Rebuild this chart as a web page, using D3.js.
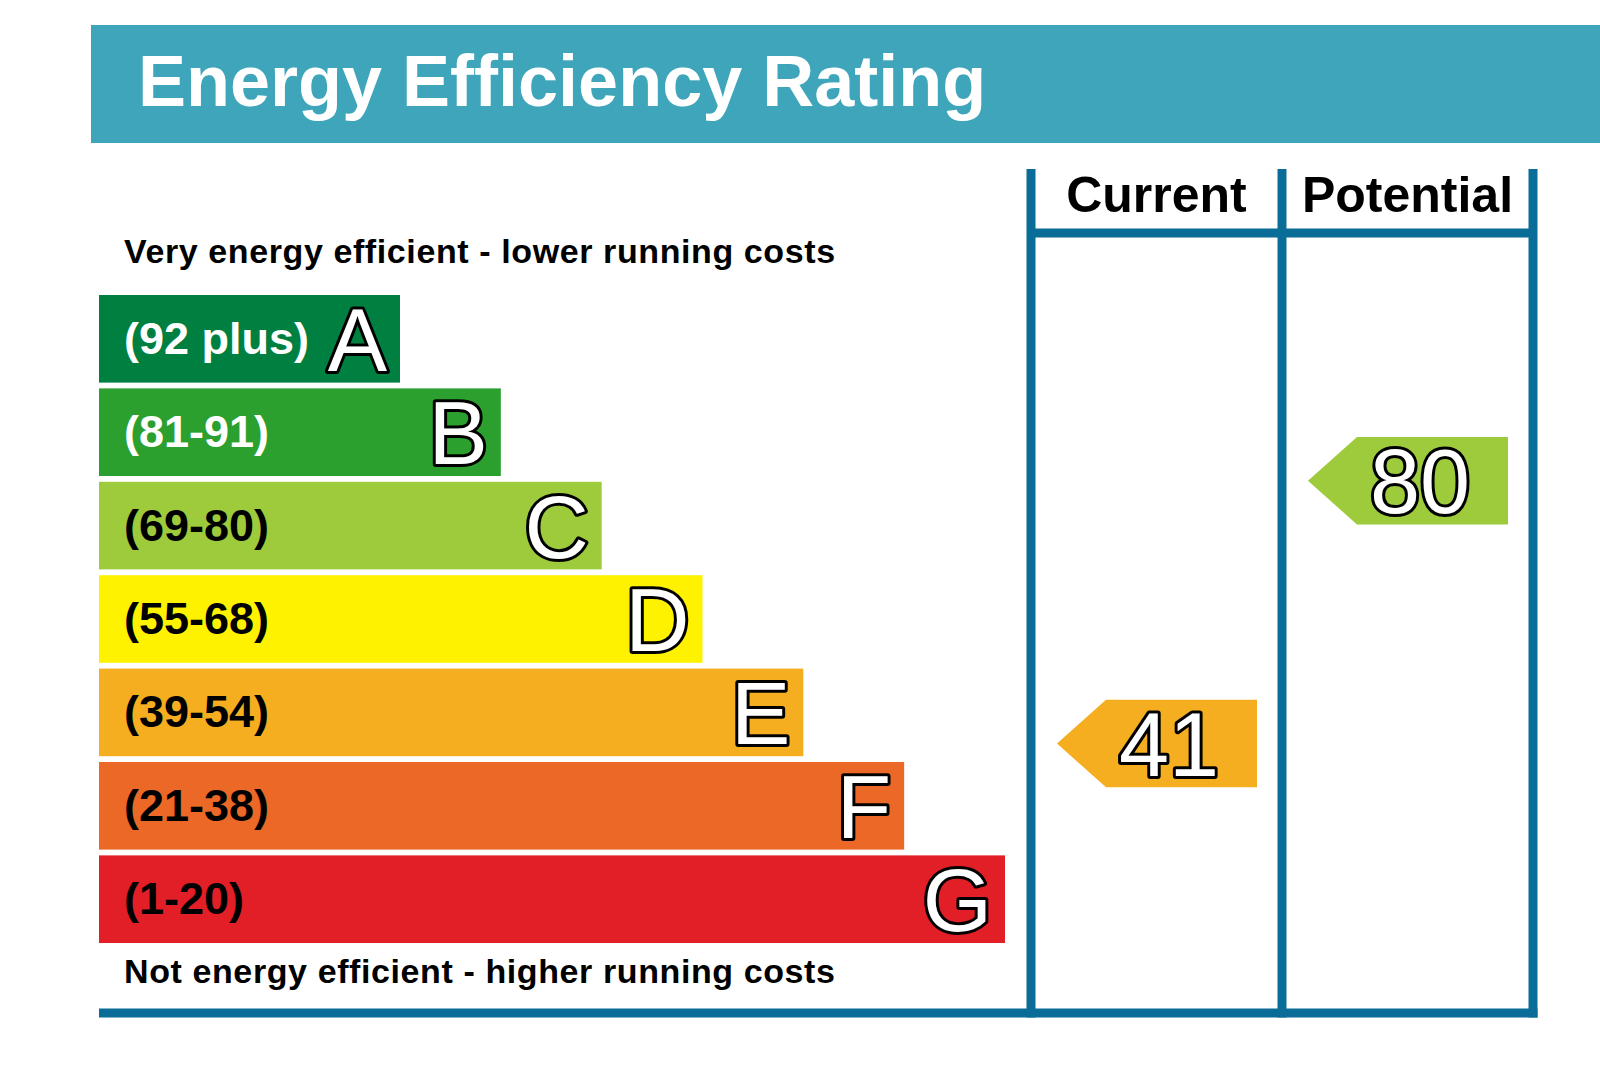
<!DOCTYPE html>
<html>
<head>
<meta charset="utf-8">
<script src="https://cdn.jsdelivr.net/npm/d3@7"></script>
<style>
  html, body { margin: 0; padding: 0; background: #ffffff; }
  svg { display: block; }
</style>
</head>
<body>
<div id="chart"></div>
<script>

//--------------------------------------
// DATA
//--------------------------------------

const bandLetters = ["A", "B", "C", "D", "E", "F", "G"];
const bandRanges  = ["(92 plus)", "(81-91)", "(69-80)", "(55-68)", "(39-54)", "(21-38)", "(1-20)"];
const bandColors  = ["#008040", "#2ca02f", "#9dcb3c", "#fff200", "#f6ae21", "#eb6826", "#e21e27"];
const bandMin     = [92, 81, 69, 55, 39, 21, 1];

const columnNames   = ["Current", "Potential"];
const ratingValues  = [41, 80];

const titleText  = "Energy Efficiency Rating";
const topNote    = "Very energy efficient - lower running costs";
const bottomNote = "Not energy efficient - higher running costs";


//--------------------------------------
// SETUP
//--------------------------------------

const W = 1600, H = 1087;
const fontFamily = "'Liberation Sans', Arial, Helvetica, sans-serif";
const lineColor = "#0a6d97";
const lineW = 9;

const svg = d3.select("#chart").append("svg")
  .attr("width", W)
  .attr("height", H);

// band rows
const y = d3.scaleBand()
  .domain(bandLetters)
  .range([295, 943])
  .paddingInner(0.062);

// right end of each band grows with its index
const xEnd = d3.scaleLinear()
  .domain([0, bandLetters.length - 1])
  .range([400, 1005]);

const barLeft = 99;

// rating columns
const col = d3.scaleBand()
  .domain(columnNames)
  .range([1031, 1533]);

// rating value -> vertical position of the pointer
const yVal = d3.scaleLinear()
  .domain([1, 100])
  .range([1013, 346]);


function bandOf(v) {
  for (let i = 0; i < bandMin.length; i++) {
    if (v >= bandMin[i]) return i;
  }
  return bandMin.length - 1;
}


//--------------------------------------
// TITLE
//--------------------------------------

svg.append("rect")
  .attr("x", 91)
  .attr("y", 25)
  .attr("width", W - 91)
  .attr("height", 118)
  .attr("fill", "#3ea5ba");

svg.append("text")
  .attr("x", 138)
  .attr("y", 106)
  .text(titleText)
  .attr("font-family", fontFamily)
  .attr("font-weight", "bold")
  .attr("font-size", 72)
  .attr("fill", "#ffffff");


//--------------------------------------
// NOTES
//--------------------------------------

svg.selectAll("text.note")
  .data([[topNote, 263], [bottomNote, 983]])
  .join("text")
  .attr("class", "note")
  .attr("x", 124)
  .attr("y", d => d[1])
  .text(d => d[0])
  .attr("font-family", fontFamily)
  .attr("font-weight", "bold")
  .attr("font-size", 34)
  .attr("letter-spacing", 0.6)
  .attr("fill", "#000000");


//--------------------------------------
// BANDS
//--------------------------------------

const rows = svg.append("g")
  .selectAll("g")
  .data(bandLetters)
  .join("g");

rows.append("rect")
  .attr("x", barLeft)
  .attr("y", d => y(d))
  .attr("width", (d, i) => xEnd(i) - barLeft)
  .attr("height", y.bandwidth())
  .attr("fill", (d, i) => bandColors[i]);

rows.append("text")
  .attr("x", 124)
  .attr("y", d => y(d) + y.bandwidth() / 2 + 15)
  .text((d, i) => bandRanges[i])
  .attr("font-family", fontFamily)
  .attr("font-weight", "bold")
  .attr("font-size", 45)
  .attr("fill", (d, i) => i < 2 ? "#ffffff" : "#000000");

rows.append("text")
  .attr("text-anchor", "end")
  .attr("x", (d, i) => xEnd(i) - 13)
  .attr("y", d => y(d) + y.bandwidth() / 2 + 32)
  .text(d => d)
  .attr("font-family", fontFamily)
  .attr("font-size", 89)
  .attr("fill", "#ffffff")
  .attr("stroke", "#000000")
  .attr("stroke-width", 6)
  .attr("stroke-linejoin", "round")
  .attr("paint-order", "stroke");


//--------------------------------------
// RATING COLUMNS
//--------------------------------------

const colTop = 169, headLine = 233, frameBottom = 1013;
const grid = svg.append("g")
  .attr("stroke", lineColor)
  .attr("stroke-width", lineW);

// vertical separators
const edges = columnNames.map(c => col(c)).concat([col.range()[1]]);
grid.selectAll("line.v")
  .data(edges)
  .join("line")
  .attr("class", "v")
  .attr("x1", d => d)
  .attr("x2", d => d)
  .attr("y1", colTop)
  .attr("y2", frameBottom + lineW / 2);

// header underline
grid.append("line")
  .attr("x1", col.range()[0])
  .attr("x2", col.range()[1])
  .attr("y1", headLine)
  .attr("y2", headLine);

// base line
grid.append("line")
  .attr("x1", barLeft)
  .attr("x2", col.range()[1] + lineW / 2)
  .attr("y1", frameBottom)
  .attr("y2", frameBottom);

svg.selectAll("text.head")
  .data(columnNames)
  .join("text")
  .attr("class", "head")
  .attr("text-anchor", "middle")
  .attr("x", d => col(d) + col.bandwidth() / 2)
  .attr("y", 212)
  .text(d => d)
  .attr("font-family", fontFamily)
  .attr("font-weight", "bold")
  .attr("font-size", 50)
  .attr("fill", "#000000");


//--------------------------------------
// POINTERS
//--------------------------------------

const half = y.bandwidth() / 2;
const notch = 49;

const pointers = svg.append("g")
  .selectAll("g")
  .data(ratingValues)
  .join("g");

pointers.append("path")
  .attr("d", (v, i) => {
    let x0 = col(columnNames[i]) + 26;
    let x1 = col(columnNames[i]) + col.bandwidth() - 25;
    let cy = yVal(v);
    return "M" + x0 + "," + cy +
           "L" + (x0 + notch) + "," + (cy - half) +
           "L" + x1 + "," + (cy - half) +
           "L" + x1 + "," + (cy + half) +
           "L" + (x0 + notch) + "," + (cy + half) + "Z";
  })
  .attr("fill", v => bandColors[bandOf(v)]);

pointers.append("text")
  .attr("text-anchor", "middle")
  .attr("x", (v, i) => col(columnNames[i]) + 26 + (col.bandwidth() - 51) / 2 + 12)
  .attr("y", v => yVal(v) + 32)
  .text(v => v)
  .attr("font-family", "'Liberation Sans Narrow', 'Liberation Sans', Arial, sans-serif")
  .attr("font-size", 90)
  .attr("fill", "#ffffff")
  .attr("stroke", "#000000")
  .attr("stroke-width", 6)
  .attr("stroke-linejoin", "round")
  .attr("paint-order", "stroke");

</script>
</body>
</html>
